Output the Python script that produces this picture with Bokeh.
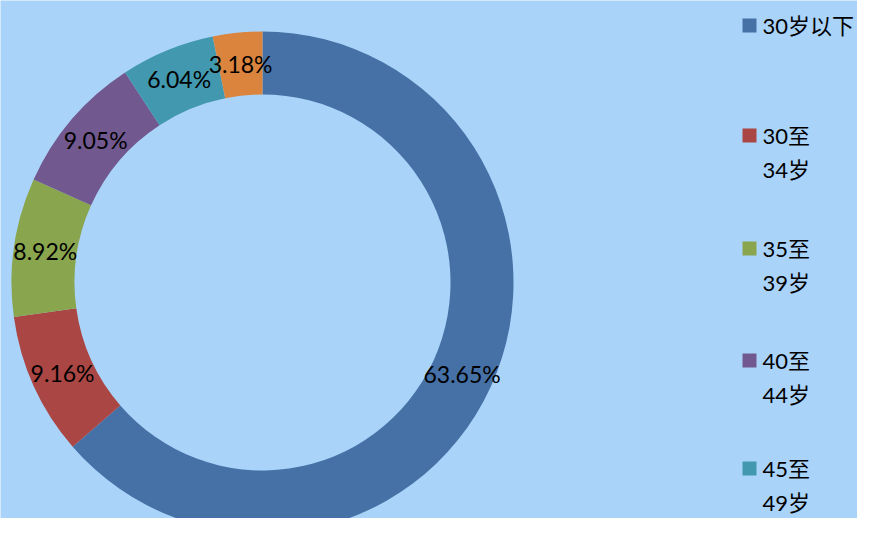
import math
from bokeh.plotting import figure
from bokeh.models import Range1d, ColumnDataSource
from bokeh.core.properties import value
from bokeh.embed import file_html
from bokeh.resources import INLINE

# ---- data ----
categories = ["30岁以下", "30至34岁", "35至39岁", "40至44岁", "45至49岁", "50岁及以上"]
shares = [63.65, 9.16, 8.92, 9.05, 6.04, 3.18]
colors = ["#4571a7", "#aa4643", "#89a54e", "#71588f", "#4198af", "#db843d"]
legend_lines = [["30岁以下"], ["30至", "34岁"], ["35至", "39岁"], ["40至", "44岁"], ["45至", "49岁"]]

# ---- layout (reference pixel space) ----
FW, FH = 857, 518
cx, cy = 262, 282
r_out, r_in = 251, 188
FONT = "Lato, 'Noto Sans CJK SC', sans-serif"

p = figure(width=FW, height=FH, output_backend="svg", toolbar_location=None,
           x_range=Range1d(0, FW), y_range=Range1d(FH, 0),
           min_border=0, background_fill_color="#aad3f9", border_fill_color="#aad3f9")
p.axis.visible = False
p.grid.visible = False
p.outline_line_color = None

total = sum(shares)
starts, ends, mids = [], [], []
cum = 0.0
for s in shares:
    a0 = math.pi / 2 - 2 * math.pi * cum / total
    cum += s
    a1 = math.pi / 2 - 2 * math.pi * cum / total
    starts.append(a0)
    ends.append(a1)
    mids.append((a0 + a1) / 2)

src = ColumnDataSource(dict(start=starts, end=ends, color=colors))
p.annular_wedge(x=cx, y=cy, inner_radius=r_in, outer_radius=r_out,
                start_angle="start", end_angle="end", direction="clock",
                fill_color="color", line_color=None, source=src)

r_mid = (r_in + r_out) / 2
lx = [cx + r_mid * math.cos(m) for m in mids]
ly = [cy - r_mid * math.sin(m) for m in mids]
labels = [f"{s:.2f}%" for s in shares]
p.text(x=lx, y=ly, text=labels, text_align="center", text_baseline="middle",
       text_font=value(FONT), text_font_size="23px", text_color="#000000")

# ---- legend ----
leg_y0 = [25, 135, 248, 360, 468]
line_gap = 34
for i, lines in enumerate(legend_lines):
    p.rect(x=[749], y=[leg_y0[i]], width=14, height=14, fill_color=colors[i], line_color=None)
    p.text(x=[762] * len(lines), y=[leg_y0[i] + k * line_gap for k in range(len(lines))],
           text=lines, text_align="left", text_baseline="middle",
           text_font=value(FONT), text_font_size="22px", text_color="#000000")

open("out.html", "w").write(file_html(p, INLINE))
